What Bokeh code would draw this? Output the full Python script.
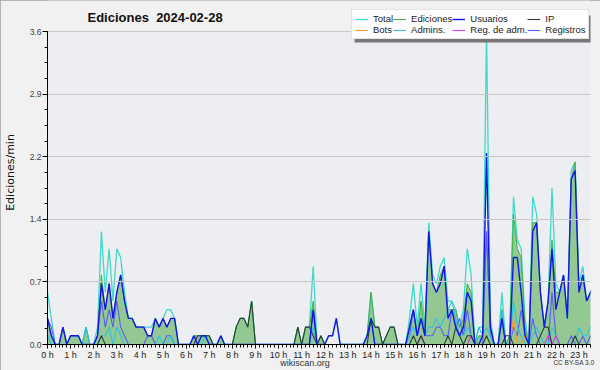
from bokeh.plotting import figure
from bokeh.layouts import column
from bokeh.models import (ColumnDataSource, Range1d, FixedTicker, NumeralTickFormatter,
                          Legend, LegendItem, Label, BoxAnnotation, Div)
from bokeh.embed import file_html
from bokeh.resources import INLINE

title_text = "Ediciones\u00a0 2024-02-28"
y_label = "Ediciones/min"
site_text = "wikiscan.org"
license_text = "CC BY-SA 3.0"
hour_ticks = list(range(24))
hour_labels = [f"{h} h" for h in hour_ticks]
y_ticks = [0.0, 0.72, 1.44, 2.16, 2.88, 3.6]
y_max = 3.6

# values per 10-minute slot (edits per minute), 00:00 .. 23:40
total = [0.6, 0.3, 0.0, 0.0, 0.2, 0.0,  0.1, 0.1, 0.1, 0.0, 0.2, 0.0,
         0.0, 0.2, 1.3, 0.6, 1.1, 0.5,  1.1, 1.0, 0.6, 0.3, 0.3, 0.2,
         0.2, 0.2, 0.2, 0.2, 0.3, 0.2,  0.3, 0.4, 0.4, 0.3, 0.0, 0.0,
         0.0, 0.0, 0.1, 0.1, 0.1, 0.1,  0.1, 0.0, 0.0, 0.1, 0.0, 0.0,
         0.0, 0.2, 0.3, 0.3, 0.2, 0.5,  0.0, 0.0, 0.0, 0.0, 0.0, 0.0,
         0.0, 0.0, 0.0, 0.0, 0.0, 0.2,  0.0, 0.2, 0.2, 0.9, 0.0, 0.1,
         0.0, 0.1, 0.1, 0.3, 0.0, 0.0,  0.0, 0.0, 0.0, 0.0, 0.0, 0.1,
         0.6, 0.2, 0.2, 0.0, 0.1, 0.2,  0.2, 0.0, 0.0, 0.0, 0.3, 0.7,
         0.2, 0.7, 0.2, 1.4, 0.8, 0.7,  0.9, 1.0, 0.5, 0.5, 0.4, 0.2,
         0.4, 1.1, 0.8, 0.0, 0.2, 0.2,  3.6, 0.3, 0.0, 0.0, 0.6, 0.0,
         0.1, 1.7, 1.2, 1.1, 0.3, 0.0,  1.7, 1.5, 0.6, 0.2, 0.5, 1.8,
         0.7, 0.6, 0.8, 0.3, 2.0, 2.1,  0.7, 0.9, 0.5, 0.6, 0.7]

ediciones = [0.3, 0.1, 0.0, 0.0, 0.2, 0.0,  0.1, 0.1, 0.1, 0.0, 0.2, 0.0,
             0.0, 0.1, 0.8, 0.4, 0.7, 0.3,  0.6, 0.8, 0.5, 0.3, 0.3, 0.2,
             0.2, 0.2, 0.1, 0.1, 0.3, 0.2,  0.3, 0.2, 0.3, 0.3, 0.0, 0.0,
             0.0, 0.0, 0.1, 0.1, 0.1, 0.1,  0.1, 0.0, 0.0, 0.1, 0.0, 0.0,
             0.0, 0.2, 0.3, 0.3, 0.2, 0.5,  0.0, 0.0, 0.0, 0.0, 0.0, 0.0,
             0.0, 0.0, 0.0, 0.0, 0.0, 0.2,  0.0, 0.2, 0.2, 0.5, 0.0, 0.1,
             0.0, 0.0, 0.0, 0.0, 0.0, 0.0,  0.0, 0.0, 0.0, 0.0, 0.0, 0.1,
             0.6, 0.2, 0.2, 0.0, 0.1, 0.2,  0.2, 0.0, 0.0, 0.0, 0.2, 0.4,
             0.1, 0.5, 0.1, 1.3, 0.7, 0.6,  0.8, 0.9, 0.4, 0.4, 0.4, 0.2,
             0.3, 0.7, 0.6, 0.0, 0.1, 0.1,  1.3, 0.2, 0.0, 0.0, 0.4, 0.0,
             0.1, 1.5, 1.1, 1.0, 0.2, 0.0,  1.4, 1.4, 0.6, 0.2, 0.5, 1.2,
             0.6, 0.6, 0.8, 0.3, 1.9, 2.1,  0.6, 0.8, 0.5, 0.6, 0.7]

usuarios = [0.3, 0.1, 0.0, 0.0, 0.2, 0.0,  0.1, 0.1, 0.1, 0.0, 0.0, 0.0,
            0.0, 0.1, 0.7, 0.4, 0.7, 0.3,  0.6, 0.8, 0.5, 0.3, 0.3, 0.2,
            0.2, 0.2, 0.1, 0.1, 0.3, 0.2,  0.3, 0.2, 0.3, 0.3, 0.0, 0.0,
            0.0, 0.0, 0.1, 0.0, 0.1, 0.1,  0.0, 0.0, 0.0, 0.1, 0.0, 0.0,
            0.0, 0.0, 0.0, 0.0, 0.0, 0.0,  0.0, 0.0, 0.0, 0.0, 0.0, 0.0,
            0.0, 0.0, 0.0, 0.0, 0.0, 0.0,  0.0, 0.0, 0.0, 0.4, 0.0, 0.0,
            0.0, 0.1, 0.1, 0.3, 0.0, 0.0,  0.0, 0.0, 0.0, 0.0, 0.0, 0.1,
            0.3, 0.0, 0.0, 0.0, 0.0, 0.0,  0.0, 0.0, 0.0, 0.0, 0.2, 0.4,
            0.1, 0.3, 0.1, 1.3, 0.7, 0.6,  0.7, 0.9, 0.3, 0.4, 0.2, 0.1,
            0.2, 0.6, 0.5, 0.0, 0.0, 0.1,  2.2, 0.2, 0.0, 0.0, 0.3, 0.0,
            0.0, 1.0, 1.0, 0.6, 0.1, 0.0,  1.3, 1.4, 0.6, 0.2, 0.5, 1.1,
            0.4, 0.6, 0.8, 0.3, 1.9, 2.0,  0.6, 0.8, 0.5, 0.6, 0.7]

ip = [0.0, 0.0, 0.0, 0.0, 0.0, 0.0,  0.0, 0.0, 0.0, 0.0, 0.0, 0.0,
      0.0, 0.0, 0.1, 0.0, 0.0, 0.0,  0.0, 0.0, 0.0, 0.0, 0.0, 0.0,
      0.0, 0.0, 0.0, 0.0, 0.0, 0.0,  0.0, 0.0, 0.0, 0.0, 0.0, 0.0,
      0.0, 0.0, 0.0, 0.1, 0.1, 0.1,  0.1, 0.0, 0.0, 0.0, 0.0, 0.0,
      0.0, 0.2, 0.3, 0.3, 0.2, 0.5,  0.0, 0.0, 0.0, 0.0, 0.0, 0.0,
      0.0, 0.0, 0.0, 0.0, 0.0, 0.2,  0.0, 0.2, 0.2, 0.1, 0.0, 0.1,
      0.0, 0.0, 0.0, 0.0, 0.0, 0.0,  0.0, 0.0, 0.0, 0.0, 0.0, 0.0,
      0.3, 0.2, 0.2, 0.0, 0.1, 0.2,  0.2, 0.0, 0.0, 0.0, 0.0, 0.1,
      0.0, 0.1, 0.0, 0.0, 0.0, 0.0,  0.0, 0.0, 0.1, 0.0, 0.2, 0.1,
      0.0, 0.1, 0.1, 0.0, 0.0, 0.0,  0.1, 0.0, 0.0, 0.0, 0.0, 0.1,
      0.1, 0.0, 0.0, 0.0, 0.0, 0.0,  0.0, 0.0, 0.1, 0.2, 0.2, 0.0,
      0.0, 0.0, 0.0, 0.0, 0.0, 0.1,  0.0, 0.0, 0.0, 0.0, 0.0]

bots = [0.0] * 121 + [0.3, 0.0, 0.0, 0.1] + [0.0] * 18

admins = [0.1, 0.0, 0.0, 0.0, 0.0, 0.0,  0.0, 0.0, 0.0, 0.0, 0.2, 0.0,
          0.0, 0.0, 0.1, 0.1, 0.2, 0.0,  0.2, 0.1, 0.0, 0.0, 0.0, 0.0,
          0.0, 0.0, 0.0, 0.0, 0.0, 0.1,  0.0, 0.0, 0.1, 0.0, 0.0, 0.0,
          0.0, 0.0, 0.0, 0.0, 0.0, 0.1,  0.0, 0.0, 0.0, 0.0, 0.0, 0.0,
          0.0, 0.0, 0.0, 0.0, 0.0, 0.0,  0.0, 0.0, 0.0, 0.0, 0.0, 0.0,
          0.0, 0.0, 0.0, 0.0, 0.0, 0.0,  0.0, 0.0, 0.0, 0.2, 0.0, 0.0,
          0.0, 0.0, 0.0, 0.0, 0.0, 0.0,  0.0, 0.0, 0.0, 0.0, 0.0, 0.1,
          0.3, 0.0, 0.0, 0.0, 0.0, 0.0,  0.0, 0.0, 0.0, 0.0, 0.1, 0.2,
          0.1, 0.3, 0.1, 0.2, 0.2, 0.3,  0.2, 0.3, 0.4, 0.5, 0.3, 0.1,
          0.1, 0.2, 0.1, 0.0, 0.2, 0.1,  0.2, 0.1, 0.0, 0.0, 0.4, 0.0,
          0.0, 0.5, 0.2, 0.1, 0.0, 0.0,  0.1, 0.2, 0.1, 0.0, 0.0, 0.2,
          0.1, 0.0, 0.0, 0.0, 0.0, 0.0,  0.2, 0.1, 0.1, 0.2, 0.2]

reg_adm = [0.0] * 97 + [0.1] + [0.0] * 12 + [0.1] + [0.0] * 19 + [0.1, 0.0, 0.1] + [0.0] * 10

registros = [0.3, 0.2, 0.0, 0.0, 0.0, 0.0,  0.0, 0.0, 0.0, 0.0, 0.0, 0.0,
             0.0, 0.1, 0.5, 0.2, 0.4, 0.2,  0.5, 0.2, 0.1, 0.0, 0.0, 0.0,
             0.0, 0.0, 0.1, 0.1, 0.0, 0.0,  0.0, 0.1, 0.1, 0.0, 0.0, 0.0,
             0.0, 0.0, 0.0, 0.0, 0.0, 0.0,  0.0, 0.0, 0.0, 0.0, 0.0, 0.0,
             0.0, 0.0, 0.0, 0.0, 0.0, 0.0,  0.0, 0.0, 0.0, 0.0, 0.0, 0.0,
             0.0, 0.0, 0.0, 0.0, 0.0, 0.0,  0.0, 0.0, 0.0, 0.4, 0.0, 0.0,
             0.0, 0.0, 0.0, 0.0, 0.0, 0.0,  0.0, 0.0, 0.0, 0.0, 0.0, 0.0,
             0.0, 0.0, 0.0, 0.0, 0.0, 0.0,  0.0, 0.0, 0.0, 0.0, 0.1, 0.4,
             0.1, 0.3, 0.1, 0.1, 0.1, 0.2,  0.2, 0.1, 0.1, 0.4, 0.2, 0.3,
             0.1, 0.4, 0.1, 0.0, 0.0, 0.0,  1.3, 0.1, 0.0, 0.0, 0.3, 0.0,
             0.0, 0.2, 0.1, 0.4, 0.1, 0.0,  0.3, 0.1, 0.0, 0.0, 0.0, 0.6,
             0.1, 0.0, 0.0, 0.0, 0.1, 0.0,  0.0, 0.1, 0.0, 0.1, 0.0]

series_names = ["Total", "Ediciones", "Usuarios", "IP", "Bots", "Admins.", "Reg. de adm.", "Registros"]

n = len(total)
hours = [i * 10 / 60 for i in range(n)]
src = ColumnDataSource(dict(t=hours, total=total, ed=ediciones, us=usuarios, ip=ip,
                            bots=bots, adm=admins, radm=reg_adm, reg=registros))

FONT = "Liberation Sans"
BG = "#f1f1f1"
PLOT_BG = "#eceef1"

# frame spans from the canvas top (y 0) to the x axis (y 344); 3.6 sits 313 px above the axis
FRAME_H = 344
y_end = y_max * FRAME_H / 313

p = figure(width=600, height=370, output_backend="svg", toolbar_location=None, title=None,
           x_range=Range1d(0, 23.5), y_range=Range1d(0, y_end),
           min_border_left=45, min_border_right=10, min_border_top=0, min_border_bottom=26,
           background_fill_color=BG, border_fill_color=BG)
p.outline_line_color = None
p.xgrid.visible = False
p.ygrid.grid_line_color = "#c8c8c8"
p.ygrid.level = "glyph"

# plot-area background between 0 and 3.6
p.add_layout(BoxAnnotation(bottom=0, top=y_max, fill_color=PLOT_BG, fill_alpha=1.0,
                           line_color=None, level="underlay"))

# axes
p.yaxis.bounds = (0, y_max)
p.yaxis.ticker = FixedTicker(ticks=y_ticks, minor_ticks=[k * 0.18 for k in range(21)])
p.yaxis.formatter = NumeralTickFormatter(format="0.0")
p.yaxis.axis_label = y_label
p.yaxis.axis_label_text_font = "DejaVu Sans"
p.yaxis.axis_label_text_font_size = "11px"
p.yaxis.axis_label_text_font_style = "normal"
p.yaxis.axis_label_text_color = "#111111"
p.yaxis.axis_label_standoff = 10
p.yaxis.major_label_text_font = FONT
p.yaxis.major_label_text_font_size = "8.5px"
p.yaxis.major_label_text_color = "#444444"
p.yaxis.major_label_standoff = 1
p.yaxis.major_tick_out = 5
p.yaxis.major_tick_in = 0
p.yaxis.minor_tick_out = 3
p.yaxis.minor_tick_in = 0
p.yaxis.axis_line_color = "black"

p.xaxis.ticker = FixedTicker(ticks=hour_ticks, minor_ticks=[k / 6 for k in range(142)])
p.xaxis.major_label_overrides = {h: lab for h, lab in zip(hour_ticks, hour_labels)}
p.xaxis.major_label_text_font = FONT
p.xaxis.major_label_text_font_size = "9px"
p.xaxis.major_label_text_color = "#222222"
p.xaxis.major_label_standoff = 1
p.xaxis.major_tick_out = 4
p.xaxis.major_tick_in = 0
p.xaxis.minor_tick_out = 3
p.xaxis.minor_tick_in = 0
p.xaxis.axis_line_color = "black"

# glyphs
p.varea(x="t", y1=0, y2="ed", source=src, fill_color="#93c893", fill_alpha=1.0)
r_total = p.line("t", "total", source=src, line_color="#3fd9c9", line_width=1.3)
r_ed = p.line("t", "ed", source=src, line_color="#43b043", line_width=1)
r_reg = p.line("t", "reg", source=src, line_color="#5b5bf5", line_width=1.1)
r_adm = p.line("t", "adm", source=src, line_color="#2fc3e0", line_width=1.1)
r_bots = p.line("t", "bots", source=src, line_color="#ff9a2a", line_width=1.1)
r_radm = p.line("t", "radm", source=src, line_color="#c640e0", line_width=1.1)
r_ip = p.line("t", "ip", source=src, line_color="#2e3b2e", line_width=1.1)
r_us = p.line("t", "us", source=src, line_color="#1515e6", line_width=1.4)

# title (inside the tall frame, above the 3.6 line)
p.add_layout(Label(x=40, y=FRAME_H - 17, x_units="screen", y_units="screen", text=title_text,
                   text_align="left", text_baseline="middle", text_font=FONT,
                   text_font_size="13px", text_font_style="bold", text_color="#111111"))

# legend with shadow
p.add_layout(BoxAnnotation(left=307, right=545, bottom=302, top=329,
                           left_units="screen", right_units="screen",
                           bottom_units="screen", top_units="screen",
                           fill_color="#777777", fill_alpha=1.0, line_color=None))
renderers = [r_total, r_ed, r_us, r_ip, r_bots, r_adm, r_radm, r_reg]
legend = Legend(items=[LegendItem(label=nm, renderers=[r]) for nm, r in zip(series_names, renderers)],
                location=(304, 305), orientation="horizontal", ncols=4,
                label_text_font=FONT, label_text_font_size="9.5px", label_text_color="#222222",
                glyph_width=13, glyph_height=8, label_height=8, label_standoff=5,
                spacing=0, padding=3, margin=0,
                border_line_color="#c8c8c8", background_fill_color="white", background_fill_alpha=1.0)
p.add_layout(legend)

foot = Div(
    text=('<div style="position:relative;width:600px;height:19px;font-family:\'Liberation Sans\';color:#333;">'
          f'<span style="position:absolute;left:0;top:2px;width:600px;text-align:center;font-size:9px;line-height:10px;">{site_text}</span>'
          f'<span style="position:absolute;right:11px;top:3px;font-size:6.5px;line-height:8px;">{license_text}</span>'
          '</div>'),
    width=600, height=19,
    styles={"position": "absolute", "left": "0px", "top": "351px", "z-index": "5"})

layout = column(p, foot, spacing=0)
layout.styles = {"outline": "2px solid #a0a0a0", "outline-offset": "-2px", "background-color": BG}

open("out.html", "w").write(file_html(layout, INLINE))
